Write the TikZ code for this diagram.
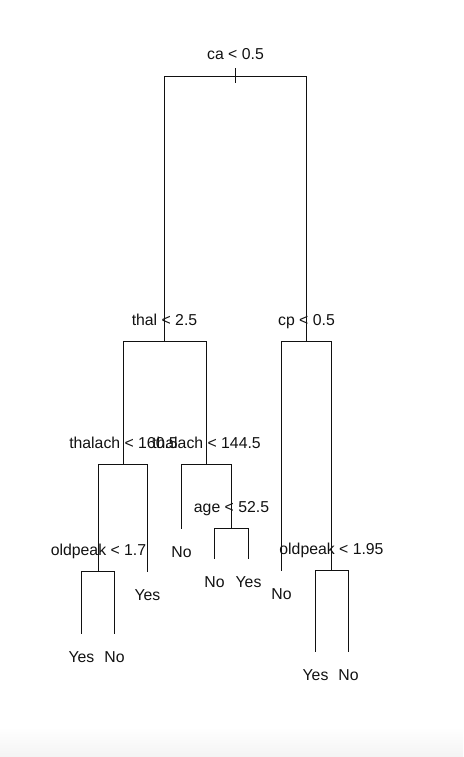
\documentclass[tikz,border=0pt]{standalone}
\usepackage{fontspec}
\setmainfont{Liberation Sans}
\usetikzlibrary{positioning}
\definecolor{inkblack}{HTML}{111111}
\definecolor{shadegrey}{HTML}{F4F4F4}
\tikzset{
  splitlab/.style = {anchor=base, inner sep=0pt, yshift=16.5pt, text=inkblack,
                     font=\fontsize{15.8}{18}\selectfont},
  leaflab/.style  = {anchor=base, inner sep=0pt, yshift=-29pt, text=inkblack,
                     font=\fontsize{15.8}{18}\selectfont},
  branch/.style   = {draw=inkblack, line width=1.1pt},
}

\begin{document}
\begin{tikzpicture}[x=1pt,y=-1pt]
    \useasboundingbox (0,0) rectangle (463,757);
    \shade[top color=white,bottom color=shadegrey] (0,727) rectangle (463,757);
    % split points
    \coordinate (ca)   at (235.5,76.5);
    \coordinate (thal) at (164.5,341.5);
    \coordinate (cp)   at (306.5,341.5);
    \coordinate (thA)  at (123.5,464.5);
    \coordinate (thB)  at (206.5,464.5);
    \coordinate (age)  at (231.5,528.5);
    \coordinate (opA)  at (98.5,571.5);
    \coordinate (opB)  at (331.5,570.5);
    % leaf ends
    \coordinate (lf1) at (81.5,633.5);
    \coordinate (lf2) at (114.5,633.5);
    \coordinate (lf3) at (147.5,571.5);
    \coordinate (lf4) at (181.5,528.5);
    \coordinate (lf5) at (214.5,558.5);
    \coordinate (lf6) at (248.5,558.5);
    \coordinate (lf7) at (281.5,570.5);
    \coordinate (lf8) at (315.5,651.5);
    \coordinate (lf9) at (348.5,651.5);
    % branches
    \draw[branch] (thal) |- (ca) -| (cp);
    \draw[branch] ([yshift=8pt]ca) -- ([yshift=-7pt]ca);
    \draw[branch] (thA) |- (thal) -| (thB);
    \draw[branch] (lf7) |- (cp) -| (opB);
    \draw[branch] (opA) |- (thA) -| (lf3);
    \draw[branch] (lf4) |- (thB) -| (age);
    \draw[branch] (lf5) |- (age) -| (lf6);
    \draw[branch] (lf1) |- (opA) -| (lf2);
    \draw[branch] (lf8) |- (opB) -| (lf9);
    % split labels
    \node[splitlab] (caL)   at (ca)   {ca < 0.5};
    \node[splitlab] (thalL) at (thal) {thal < 2.5};
    \node[splitlab] (cpL)   at (cp)   {cp < 0.5};
    \node[splitlab] (thAL)  at (thA)  {thalach < 160.5};
    \node[splitlab] (thBL)  at (thB)  {thalach < 144.5};
    \node[splitlab] (ageL)  at (age)  {age < 52.5};
    \node[splitlab] (opAL)  at (opA)  {oldpeak < 1.7};
    \node[splitlab] (opBL)  at (opB)  {oldpeak < 1.95};
    % leaf labels
    \node[leaflab] (lf1L) at (lf1) {Yes};
    \node[leaflab] (lf2L) at (lf2) {No};
    \node[leaflab] (lf3L) at (lf3) {Yes};
    \node[leaflab] (lf4L) at (lf4) {No};
    \node[leaflab] (lf5L) at (lf5) {No};
    \node[leaflab] (lf6L) at (lf6) {Yes};
    \node[leaflab] (lf7L) at (lf7) {No};
    \node[leaflab] (lf8L) at (lf8) {Yes};
    \node[leaflab] (lf9L) at (lf9) {No};
\end{tikzpicture}
\end{document}
